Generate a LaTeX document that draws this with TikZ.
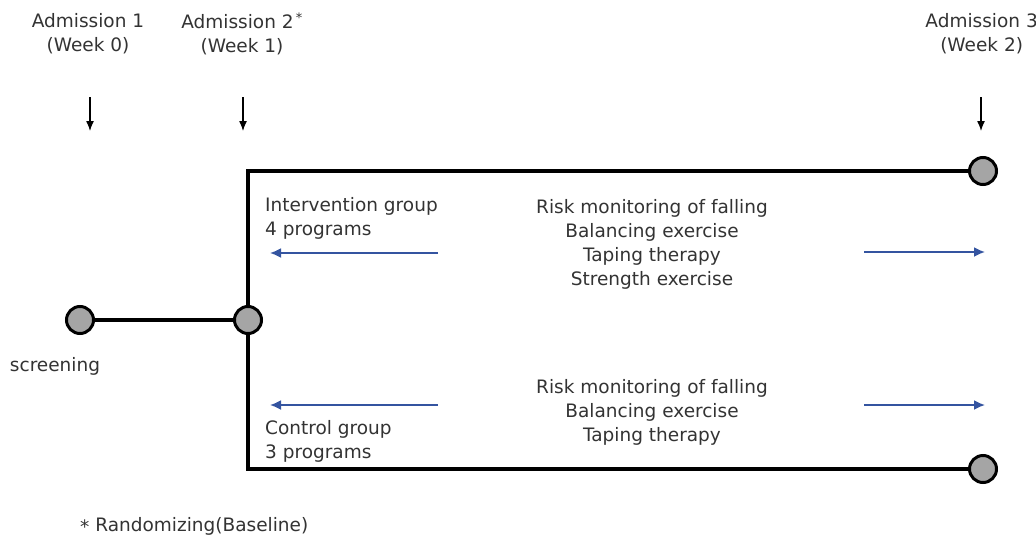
\documentclass[tikz,border=0pt]{standalone}
\usepackage{fontspec}
\setmainfont{DejaVu Sans}
\usetikzlibrary{arrows.meta}
\definecolor{arrblue}{RGB}{52,84,160}
\definecolor{dotgray}{RGB}{165,165,165}
\begin{document}
\begin{tikzpicture}[x=1pt,y=-1pt,
  txt/.style={font=\fontsize{18.5}{24}\selectfont, text=black!80, inner sep=0pt},
  ctr/.style={txt, align=center},
  lft/.style={txt, align=left, anchor=west},
  dot/.style={circle, draw=black, line width=3pt, fill=dotgray, minimum size=27pt, inner sep=0pt},
  thick line/.style={line width=3.6pt, black},
  down/.style={-{Latex[length=10pt,width=8pt]}, line width=1.3pt},
  blue arrow/.style={-{Latex[length=11pt,width=10pt]}, line width=1.8pt, arrblue}]
\useasboundingbox (0,0) rectangle (1036,538);
% headers
\node[ctr] (a1) at (88,34) {Admission 1\\(Week 0)};
\node[ctr] (a2) at (242,34) {Admission 2\textsuperscript{\,*}\\(Week 1)};
\node[ctr, anchor=east] (a3) at (1038,34) {Admission 3\\(Week 2)};
% down arrows
\coordinate (d1s) at (90,97); \coordinate (d1e) at (90,131);
\coordinate (d2s) at (243,97); \coordinate (d2e) at (243,131);
\coordinate (d3s) at (981,97); \coordinate (d3e) at (981,131);
\draw[down] (d1s) -- (d1e);
\draw[down] (d2s) -- (d2e);
\draw[down] (d3s) -- (d3e);
% skeleton
\coordinate (tl) at (248,171);
\coordinate (bl) at (248,469);
\node[dot] (scr) at (80,320) {};
\node[dot] (rand) at (248,320) {};
\node[dot] (tr) at (983,171) {};
\node[dot] (br) at (983,469) {};
\draw[thick line] (scr) -- (rand);
\draw[thick line] (rand) -- (tl) -- (tr);
\draw[thick line] (rand) -- (bl) -- (br);
\node[ctr] (scrt) at (55,366) {screening};
% intervention
\node[lft] (ig) at (265,218) {Intervention group\\4 programs};
\node[ctr] (ip) at (652,244) {Risk monitoring of falling\\Balancing exercise\\Taping therapy\\Strength exercise};
\coordinate (il1) at (438,253); \coordinate (il2) at (270,253);
\coordinate (ir1) at (864,252); \coordinate (ir2) at (985,252);
\draw[blue arrow] (il1) -- (il2);
\draw[blue arrow] (ir1) -- (ir2);
% control
\node[lft] (cg) at (265,441) {Control group\\3 programs};
\node[ctr] (cp) at (652,412) {Risk monitoring of falling\\Balancing exercise\\Taping therapy};
\coordinate (cl1) at (438,405); \coordinate (cl2) at (270,405);
\coordinate (cr1) at (864,405); \coordinate (cr2) at (985,405);
\draw[blue arrow] (cl1) -- (cl2);
\draw[blue arrow] (cr1) -- (cr2);
% footnote
\node[lft] (fn) at (80,526) {\raisebox{-2pt}{*} Randomizing(Baseline)};
\end{tikzpicture}
\end{document}
